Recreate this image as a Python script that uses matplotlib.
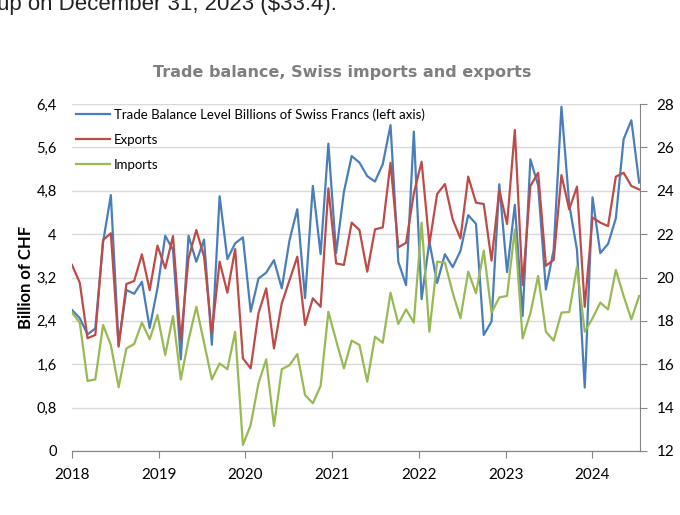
import matplotlib.pyplot as plt
import numpy as np
from matplotlib.lines import Line2D

# trade balance (left axis), billions CHF
balance = [2.60, 2.45, 2.15, 2.26, 3.85, 4.72, 1.96, 2.97, 2.90, 3.12, 2.27, 3.00, 3.97, 3.71, 1.69,
           3.97, 3.49, 3.90, 1.96, 4.70, 3.54, 3.83, 3.94, 2.57, 3.18, 3.29, 3.52, 3.00, 3.89,
           4.46, 2.82, 4.89, 3.63, 5.67, 3.65, 4.78, 5.44, 5.32, 5.07, 4.97, 5.29, 6.01, 3.49,
           3.06, 5.89, 2.80, 3.86, 3.10, 3.63, 3.39, 3.69, 4.35, 4.19, 2.14, 2.39, 4.92, 3.30,
           4.54, 2.49, 5.38, 4.90, 2.98, 3.71, 6.35, 4.55, 3.71, 1.17, 4.68, 3.65, 3.82, 4.29,
           5.75, 6.10, 4.95]

# exports / imports (right axis)
exports = [20.58, 19.76, 17.20, 17.35, 21.73, 22.04, 16.81, 19.70, 19.84, 21.07, 19.42, 21.47, 20.42, 21.91, 17.10,
           20.88, 22.19, 20.96, 17.42, 20.73, 19.30, 21.31, 16.27, 15.81, 18.35, 19.50, 16.73, 18.81, 19.88,
           20.96, 17.81, 19.04, 18.65, 24.11, 20.65, 20.58, 22.53, 22.19, 20.27, 22.22, 22.31, 25.29, 21.39,
           21.60, 23.88, 25.34, 21.54, 23.85, 24.31, 22.68, 21.80, 24.65, 23.45, 23.39, 20.78, 24.03, 22.47,
           26.80, 19.65, 24.22, 24.83, 20.54, 20.81, 24.72, 23.14, 24.19, 18.65, 22.77, 22.53, 22.37, 24.65,
           24.83, 24.22, 24.06]

imports = [18.38, 17.92, 15.23, 15.30, 17.81, 16.89, 14.94, 16.73, 16.93, 17.92, 17.15, 18.27, 16.43, 18.22, 15.30,
           17.12, 18.65, 16.99, 15.30, 16.04, 15.77, 17.50, 12.28, 13.20, 15.12, 16.23, 13.15, 15.77, 15.96,
           16.47, 14.58, 14.20, 15.00, 18.42, 17.09, 15.81, 17.09, 16.89, 15.20, 17.27, 16.99, 19.30, 17.86,
           18.53, 17.92, 22.53, 17.50, 20.73, 20.68, 19.30, 18.12, 20.27, 19.27, 21.24, 18.38, 19.08, 19.15,
           22.22, 17.19, 18.35, 20.07, 17.50, 17.09, 18.38, 18.41, 20.50, 17.50, 18.12, 18.84, 18.53, 20.35,
           19.15, 18.07, 19.15]

years = [2018, 2019, 2020, 2021, 2022, 2023, 2024]
left_ticks = [0, 0.8, 1.6, 2.4, 3.2, 4.0, 4.8, 5.6, 6.4]
left_labels = ['0', '0,8', '1,6', '2,4', '3,2', '4', '4,8', '5,6', '6,4']
right_ticks = [12, 14, 16, 18, 20, 22, 24, 26, 28]

BLUE = '#4a7ebb'
RED = '#be4b48'
GREEN = '#98b954'
AXIS = '#868686'

x = np.linspace(2018, 2024.54, len(balance))

fig = plt.figure(figsize=(6.8, 5.15), dpi=100)
fig.patch.set_facecolor('white')

# cut off sentence from the page above the chart
fig.text(-0.004, 1 - 10 / 515, 'up on December 31, 2023 ($33.4).', fontsize=16,
         family='Liberation Sans', color='#222222', va='baseline', ha='left')

ax = fig.add_axes([72 / 680, 64 / 515, 568 / 680, 347 / 515])
ax2 = ax.twinx()

ax.plot(x, balance, color=BLUE, lw=1.6, zorder=3)
ax2.plot(x, exports, color=RED, lw=1.6)
ax2.plot(x, imports, color=GREEN, lw=1.6)

ax.set_xlim(2018, 2024.55)
ax.set_ylim(0, 6.4)
ax2.set_ylim(12, 28)

ax.set_yticks(left_ticks)
ax.set_yticklabels(left_labels)
ax2.set_yticks(right_ticks)
ax.set_xticks(years)
ax.set_xticklabels([str(y) for y in years])

ax.grid(axis='y', color='#d9d9d9', lw=1)
ax.set_axisbelow(True)

for a in (ax, ax2):
    a.spines['top'].set_visible(False)
    a.spines['left'].set_visible(False)
    a.spines['right'].set_visible(False)
    a.spines['bottom'].set_color(AXIS)
ax2.spines['right'].set_visible(True)
ax2.spines['right'].set_color(AXIS)

ax.tick_params(axis='y', length=0, pad=11, labelsize=10.5, labelfontfamily='Lato')
ax.tick_params(axis='x', direction='out', length=5, color=AXIS, pad=7, labelsize=11,
               labelfontfamily='Lato')
ax2.tick_params(axis='y', direction='out', length=5, color=AXIS, pad=7, labelsize=11,
                labelfontfamily='Lato')

ax.set_ylabel('Billion of CHF', fontsize=12, fontweight='bold', family='Lato', labelpad=2)

fig.text(342 / 680, 1 - 72 / 515, 'Trade balance, Swiss imports and exports', fontsize=11.5,
         fontweight='bold', family='DejaVu Sans', color='#7f7f7f', ha='center', va='center')

handles = [Line2D([], [], color=BLUE, lw=1.6),
           Line2D([], [], color=RED, lw=1.6),
           Line2D([], [], color=GREEN, lw=1.6)]
labels = ['Trade Balance Level Billions of Swiss Francs (left axis)', 'Exports', 'Imports']
leg = ax2.legend(handles, labels, loc='upper left', bbox_to_anchor=(0, 1), frameon=False,
                 prop={'family': 'Lato', 'size': 9.5}, handlelength=2.6, handletextpad=0.3,
                 labelspacing=1.0, borderaxespad=0.1, borderpad=0.2)

fig.savefig('out.png', dpi=100)
